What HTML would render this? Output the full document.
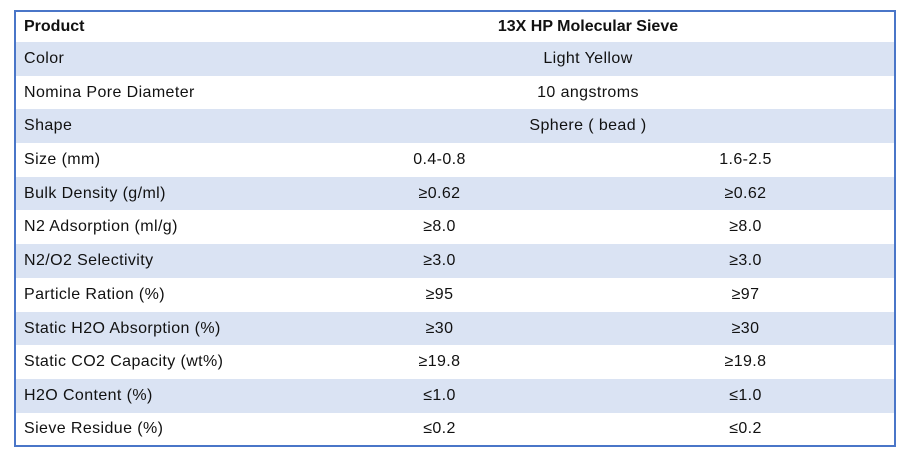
<!DOCTYPE html>
<html><head><style>
html,body{margin:0;padding:0;background:#fff;width:913px;height:462px;overflow:hidden}
.t{position:absolute;left:14px;top:10px;width:878px;height:433px;border:2px solid #4a76c8;font-family:"Liberation Sans",Arial,sans-serif;font-size:16px;letter-spacing:0.4px;color:#111}
.r{position:absolute;left:0;width:878px}
.r div{position:absolute;top:0;height:100%;display:flex;align-items:center}
.c1{left:8px}
.c2{left:266px;width:315px;justify-content:center}
.c3{left:581px;width:297px;justify-content:center}
.cs{left:266px;width:612px;justify-content:center}
.s{background:#dae3f3}
</style></head><body>
<div class="t">
<div class="r" style="top:0;height:30px;font-weight:bold;letter-spacing:0"><div class="c1">Product</div><div class="cs">13X HP Molecular Sieve</div></div>
<div class="r s" style="top:30px;height:34px"><div class="c1">Color</div><div class="cs">Light Yellow</div></div>
<div class="r" style="top:64px;height:33px"><div class="c1">Nomina Pore Diameter</div><div class="cs">10 angstroms</div></div>
<div class="r s" style="top:97px;height:34px"><div class="c1">Shape</div><div class="cs">Sphere ( bead )</div></div>
<div class="r" style="top:131px;height:34px"><div class="c1">Size (mm)</div><div class="c2">0.4-0.8</div><div class="c3">1.6-2.5</div></div>
<div class="r s" style="top:165px;height:33px"><div class="c1">Bulk Density (g/ml)</div><div class="c2">≥0.62</div><div class="c3">≥0.62</div></div>
<div class="r" style="top:198px;height:34px"><div class="c1">N2 Adsorption (ml/g)</div><div class="c2">≥8.0</div><div class="c3">≥8.0</div></div>
<div class="r s" style="top:232px;height:34px"><div class="c1">N2/O2 Selectivity</div><div class="c2">≥3.0</div><div class="c3">≥3.0</div></div>
<div class="r" style="top:266px;height:34px"><div class="c1">Particle Ration (%)</div><div class="c2">≥95</div><div class="c3">≥97</div></div>
<div class="r s" style="top:300px;height:33px"><div class="c1">Static H2O Absorption (%)</div><div class="c2">≥30</div><div class="c3">≥30</div></div>
<div class="r" style="top:333px;height:34px"><div class="c1">Static CO2 Capacity (wt%)</div><div class="c2">≥19.8</div><div class="c3">≥19.8</div></div>
<div class="r s" style="top:367px;height:34px"><div class="c1">H2O Content (%)</div><div class="c2">≤1.0</div><div class="c3">≤1.0</div></div>
<div class="r" style="top:401px;height:32px"><div class="c1">Sieve Residue (%)</div><div class="c2">≤0.2</div><div class="c3">≤0.2</div></div>
</div>
</body></html>
